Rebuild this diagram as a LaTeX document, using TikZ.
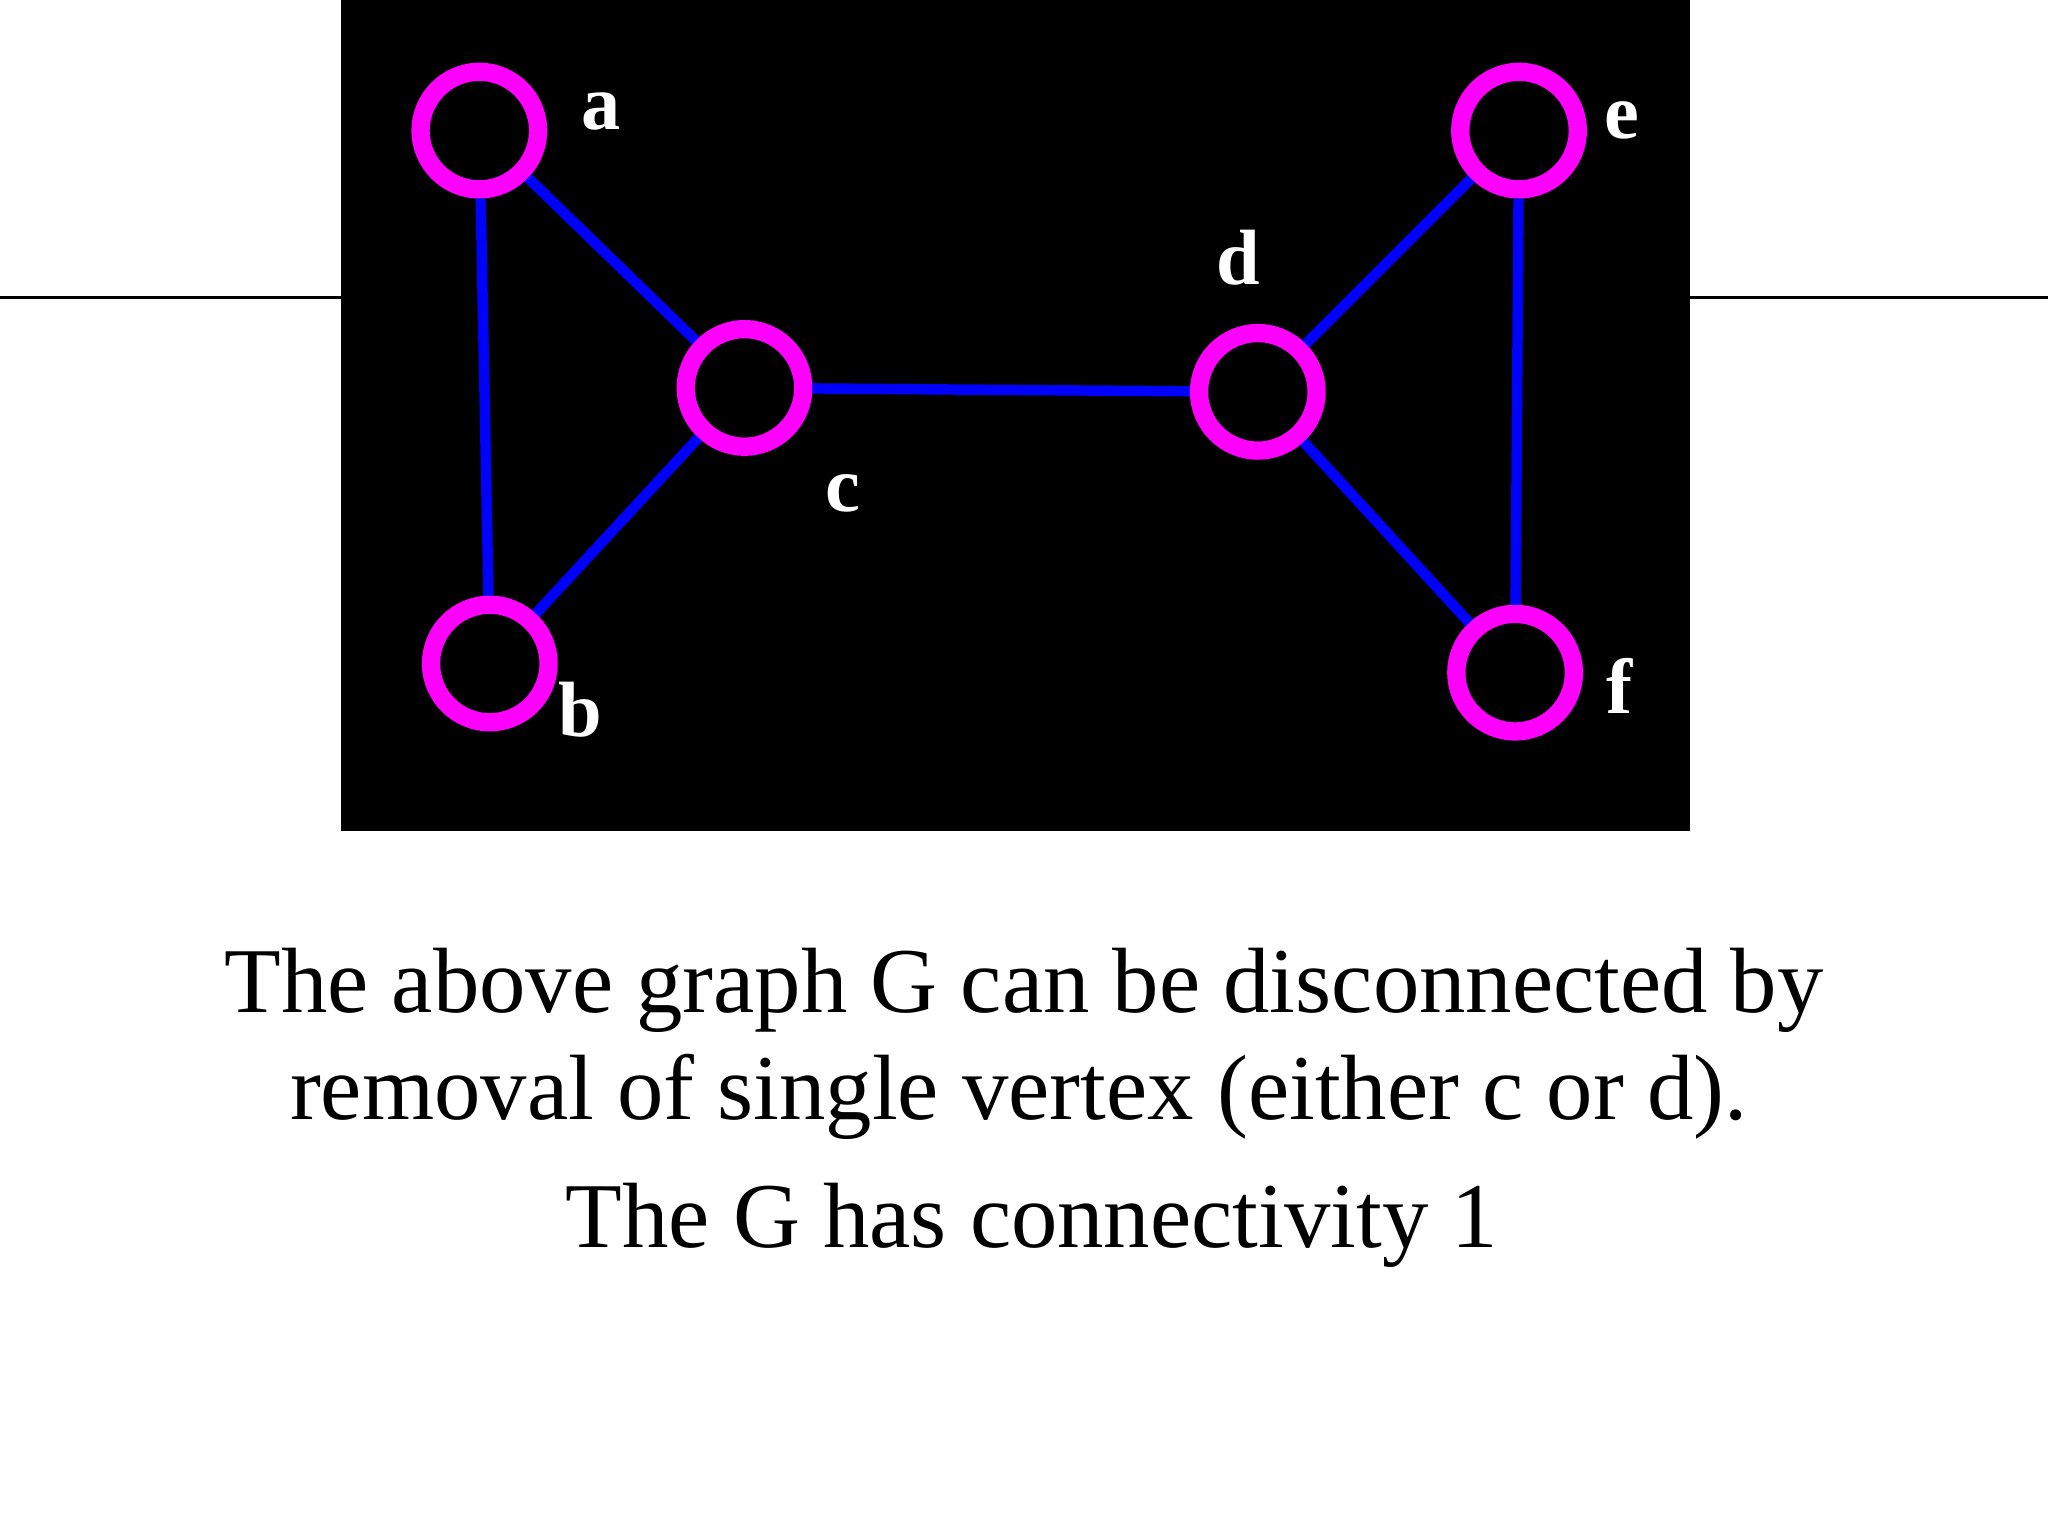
\documentclass[tikz,border=0pt]{standalone}
\usepackage{fontspec}
\setmainfont{Liberation Serif}
\definecolor{ringc}{RGB}{255,0,255}
\definecolor{edgec}{RGB}{0,0,255}
\begin{document}
\begin{tikzpicture}[x=0.5pt,y=-0.5pt,
  vtx/.style={circle,draw=ringc,line width=7pt,minimum size=45pt,inner sep=0pt},
  edg/.style={draw=edgec,line width=4pt},
  lbl/.style={text=white,font=\fontsize{30}{30}\selectfont\bfseries,inner sep=0pt},
  captext/.style={font=\fontsize{35.5}{40}\selectfont,inner sep=0pt}]
\useasboundingbox (0,0) rectangle (1568,1176);
\fill[white] (0,0) rectangle (1568,1176);
\draw[line width=1pt] (0,228) -- (261,228);
\draw[line width=1pt] (1294,228) -- (1568,228);
\fill[black] (261,0) rectangle (1294,636);
\node[vtx] (a) at (367,100) {};
\node[vtx] (b) at (375,508) {};
\node[vtx] (c) at (570,297) {};
\node[vtx] (d) at (963,300) {};
\node[vtx] (e) at (1163,100) {};
\node[vtx] (f) at (1160,515) {};
\draw[edg] (a) -- (b); \draw[edg] (a) -- (c); \draw[edg] (b) -- (c);
\draw[edg] (c) -- (d); \draw[edg] (d) -- (e); \draw[edg] (d) -- (f); \draw[edg] (e) -- (f);
\node[lbl] (la) at (460,85) {a};
\node[lbl] (lb) at (444,543) {b};
\node[lbl] (lc) at (645,378) {c};
\node[lbl] (ld) at (948,197) {d};
\node[lbl] (le) at (1242,92) {e};
\node[lbl] (lf) at (1240,525) {f};
\node[captext] (t1) at (784,758) {The above graph G can be disconnected by};
\node[captext] (t2) at (780,840) {removal of single vertex (either c or d).};
\node[captext] (t3) at (790,938) {The G has connectivity 1};
\end{tikzpicture}
\end{document}
